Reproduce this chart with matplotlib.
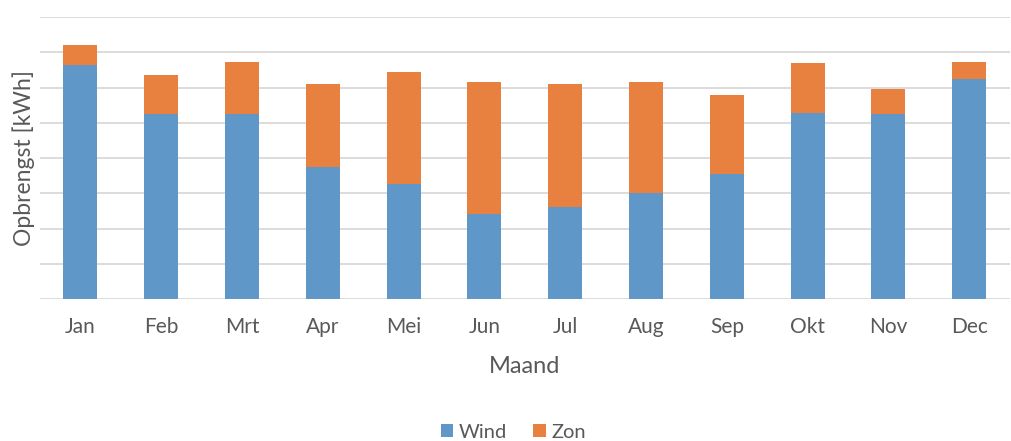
import numpy as np
import matplotlib.pyplot as plt

# monthly yield (units = gridline steps)
maanden = ["Jan", "Feb", "Mrt", "Apr", "Mei", "Jun", "Jul", "Aug", "Sep", "Okt", "Nov", "Dec"]
wind = [6.64, 5.26, 5.24, 3.74, 3.26, 2.40, 2.60, 3.01, 3.55, 5.29, 5.24, 6.25]
totaal = [7.22, 6.35, 6.72, 6.09, 6.45, 6.15, 6.11, 6.15, 5.80, 6.70, 5.97, 6.72]
zon = [t - w for t, w in zip(totaal, wind)]

blauw = "#6097C9"
oranje = "#E8803F"
grijs = "#595959"

plt.rcParams['font.family'] = ['Lato', 'DejaVu Sans']

fig = plt.figure(figsize=(10.11, 4.41), dpi=100)
ax = fig.add_axes([0.0396, 0.322, 0.959, 0.639])

x = np.arange(len(maanden))
ax.bar(x, wind, width=0.42, color=blauw, label="Wind", zorder=3)
ax.bar(x, zon, width=0.42, bottom=wind, color=oranje, label="Zon", zorder=3)

ax.set_xlim(-0.5, len(maanden) - 0.5)
ax.set_ylim(0, 8)
ax.set_yticks(range(0, 9))
ax.set_yticklabels([])
ax.yaxis.grid(True, color="#d9d9d9", linewidth=1.3, zorder=0)
ax.tick_params(axis="y", length=0)
ax.tick_params(axis="x", length=0, pad=13, labelsize=15, labelcolor=grijs)
ax.set_xticks(x)
ax.set_xticklabels(maanden)
for s in ax.spines.values():
    s.set_visible(False)

ax.set_xlabel("Maand", fontsize=17, color=grijs, labelpad=14)
ax.set_ylabel("Opbrengst [kWh]", fontsize=16.5, color=grijs, labelpad=0)

fig.legend(loc="center", bbox_to_anchor=(0.508, 0.02), ncol=2, frameon=False,
           fontsize=14.5, labelcolor=grijs, handlelength=0.6, handleheight=0.6,
           handletextpad=0.3, columnspacing=1.3)

fig.savefig("out.png", dpi=100)
